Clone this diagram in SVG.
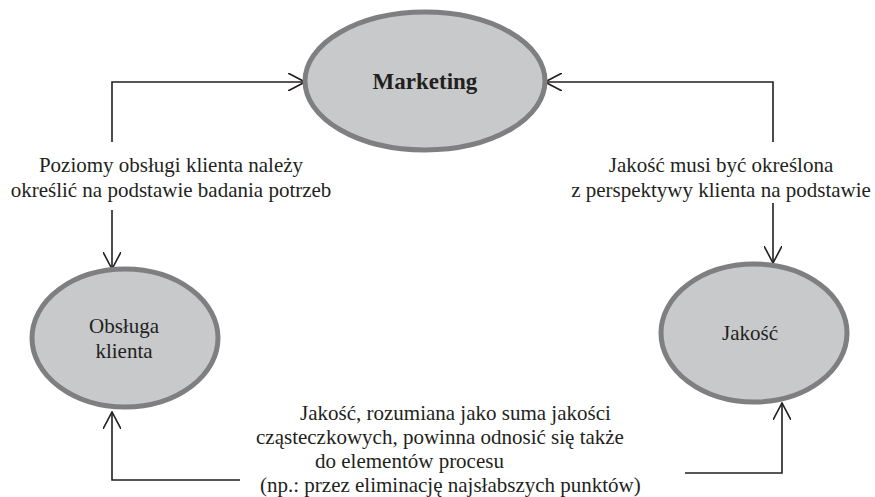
<svg xmlns="http://www.w3.org/2000/svg" width="875" height="497" viewBox="0 0 875 497">
<defs>
<marker id="a" viewBox="0 0 18 18" refX="17" refY="9" markerWidth="18" markerHeight="18" markerUnits="userSpaceOnUse" orient="auto">
<path d="M0,0 L17,9 L0,18" fill="none" stroke="#231f20" stroke-width="1.6"/>
</marker>
</defs>
<rect width="875" height="497" fill="#fff"/>
<g id="connectors" fill="none" stroke="#231f20" stroke-width="1.6">
<path d="M112,142 V82 H305" marker-end="url(#a)"/>
<path d="M112,210 V269" marker-end="url(#a)"/>
<path d="M773,142 V82 H545" marker-end="url(#a)"/>
<path d="M773,203 V263" marker-end="url(#a)"/>
<path d="M240,480 H112 V412" marker-end="url(#a)"/>
<path d="M685,473 H782 V403" marker-end="url(#a)"/>
</g>
<g id="marketing">
<ellipse cx="425" cy="81" rx="120" ry="69" fill="#c8c9cb" stroke="#7f7f81" stroke-width="5"/>
<text font-family="Liberation Serif, serif" font-size="23" font-weight="bold" fill="#231f20" x="425" y="89" text-anchor="middle">Marketing</text>
</g>
<g id="obsluga">
<ellipse cx="125" cy="338" rx="93" ry="69" fill="#c8c9cb" stroke="#7f7f81" stroke-width="5"/>
<text font-family="Liberation Serif, serif" font-size="21" fill="#231f20" x="124" y="333" text-anchor="middle">Obsługa</text>
<text font-family="Liberation Serif, serif" font-size="21" fill="#231f20" x="124" y="358" text-anchor="middle">klienta</text>
</g>
<g id="jakosc">
<ellipse cx="754" cy="333" rx="93" ry="69" fill="#c8c9cb" stroke="#7f7f81" stroke-width="5"/>
<text font-family="Liberation Serif, serif" font-size="21" fill="#231f20" x="750" y="340" text-anchor="middle">Jakość</text>
</g>
<g id="labels">
<text font-family="Liberation Serif, serif" font-size="21" fill="#231f20" x="171" y="172" text-anchor="middle">Poziomy obsługi klienta należy</text>
<text font-family="Liberation Serif, serif" font-size="21" fill="#231f20" x="171" y="197" text-anchor="middle">określić na podstawie badania potrzeb</text>
<text font-family="Liberation Serif, serif" font-size="21" fill="#231f20" x="721" y="172" text-anchor="middle">Jakość musi być określona</text>
<text font-family="Liberation Serif, serif" font-size="21" fill="#231f20" x="721" y="197" text-anchor="middle">z perspektywy klienta na podstawie</text>
<text font-family="Liberation Serif, serif" font-size="21" fill="#231f20" x="300" y="420">Jakość, rozumiana jako suma jakości</text>
<text font-family="Liberation Serif, serif" font-size="21" fill="#231f20" x="256" y="444">cząsteczkowych, powinna odnosić się także</text>
<text font-family="Liberation Serif, serif" font-size="21" fill="#231f20" x="315" y="468">do elementów procesu</text>
<text font-family="Liberation Serif, serif" font-size="21" fill="#231f20" x="260" y="492">(np.: przez eliminację najsłabszych punktów)</text>
</g>
</svg>
